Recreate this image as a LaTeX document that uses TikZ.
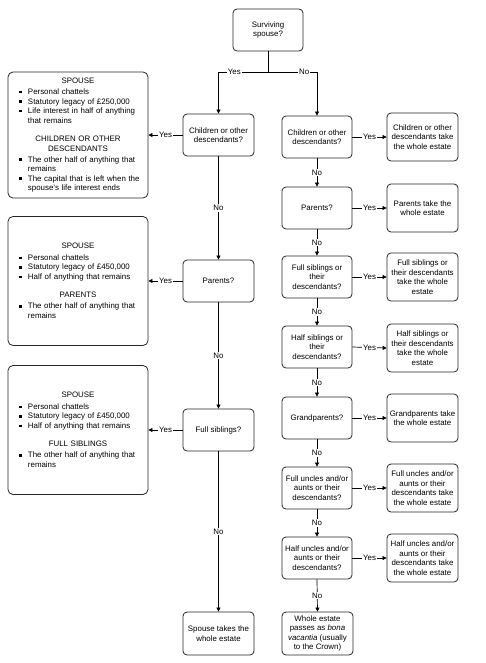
\documentclass[tikz,border=0pt]{standalone}
\usepackage{fontspec}
\setmainfont{Liberation Sans}
\usetikzlibrary{arrows.meta}
\newcommand\fs{\fontsize{7.9}{9.5}\selectfont}
\newcommand\hd[1]{{\centering #1\par}}
\newcommand\itm[1]{{\raggedright\hangindent=12pt\hangafter=1\noindent\makebox[12pt][l]{\hspace{3pt}\raisebox{1.3pt}{\rule{2.6pt}{2.6pt}}}#1\par}}
\tikzset{
  box/.style={draw=black!85, line width=0.8pt, rounded corners=4pt, align=center, font=\fs, inner sep=1pt},
  q/.style={box, minimum width=70pt, minimum height=42pt},
  res/.style={box, minimum width=71pt, minimum height=48pt},
  big/.style={draw=black!85, line width=0.8pt, rounded corners=5pt, font=\fs, text width=124pt, inner xsep=8pt, inner ysep=2pt, minimum height=128pt},
  arr/.style={-{Triangle[length=4pt,width=4pt]}, line width=0.7pt},
  ln/.style={line width=0.7pt},
  lab/.style={fill=white, inner sep=1pt, font=\fs}
}
\begin{document}
\begin{tikzpicture}[x=1pt,y=-1pt]
\useasboundingbox (0,0) rectangle (486,663);
% top
\node[q] (sp) at (268,30) {Surviving\\spouse?};
\coordinate (split) at (268,72);
% left column
\node[q, minimum width=71pt] (lc1) at (218.5,135) {Children or other\\descendants?};
\node[q, minimum width=71pt] (lc2) at (218.5,281) {Parents?};
\node[q, minimum width=71pt] (lc3) at (218.5,430) {Full siblings?};
\node[q, minimum width=71pt, minimum height=43pt] (lc4) at (218.5,633.5) {Spouse takes the\\whole estate};
% big boxes
\node[big, minimum height=126pt] (b1) at (78,135) {%
\hd{SPOUSE}\vspace{2pt}
\itm{Personal chattels}
\itm{Statutory legacy of £250,000}
\itm{Life interest in half of anything\newline that remains}
\vspace{9pt}
\hd{CHILDREN OR OTHER\\DESCENDANTS}\vspace{1.5pt}
\itm{The other half of anything that\newline remains}
\itm{The capital that is left when the\newline spouse's life interest ends}};
\node[big, minimum height=129pt] (b2) at (78,281) {%
\hd{SPOUSE}\vspace{2pt}
\itm{Personal chattels}
\itm{Statutory legacy of £450,000}
\itm{Half of anything that remains}
\vspace{9pt}
\hd{PARENTS}\vspace{1.5pt}
\itm{The other half of anything that\newline remains}};
\node[big, minimum height=129pt] (b3) at (78,430) {%
\hd{SPOUSE}\vspace{2pt}
\itm{Personal chattels}
\itm{Statutory legacy of £450,000}
\itm{Half of anything that remains}
\vspace{9pt}
\hd{FULL SIBLINGS}\vspace{1.5pt}
\itm{The other half of anything that\newline remains}};
% right column
\node[q] (rc1) at (317,137) {Children or other\\descendants?};
\node[q] (rc2) at (317,208) {Parents?};
\node[q] (rc3) at (317,277) {Full siblings or\\their\\descendants?};
\node[q] (rc4) at (317,347) {Half siblings or\\their\\descendants?};
\node[q] (rc5) at (317,418) {Grandparents?};
\node[q] (rc6) at (317,488) {Full uncles and/or\\aunts or their\\descendants?};
\node[q] (rc7) at (317,558) {Half uncles and/or\\aunts or their\\descendants?};
\node[q, minimum width=71pt, minimum height=43pt] (rc8) at (317.5,633.5) {Whole estate\\passes as \textit{bona}\\\textit{vacantia} (usually\\to the Crown)};
% results
\node[res] (rr1) at (422.5,137) {Children or other\\descendants take\\the whole estate};
\node[res] (rr2) at (422.5,208) {Parents take the\\whole estate};
\node[res] (rr3) at (422.5,277) {Full siblings or\\their descendants\\take the whole\\estate};
\node[res] (rr4) at (422.5,348) {Half siblings or\\their descendants\\take the whole\\estate};
\node[res] (rr5) at (422.5,418) {Grandparents take\\the whole estate};
\node[res] (rr6) at (422.5,488) {Full uncles and/or\\aunts or their\\descendants take\\the whole estate};
\node[res] (rr7) at (422.5,558) {Half uncles and/or\\aunts or their\\descendants take\\the whole estate};
% connectors
\draw[ln] (sp.south) -- (split);
\draw[arr] (split) -| node[lab, pos=0.34] {Yes} (lc1.north);
\draw[arr] (split) -| node[lab, pos=0.37] {No} (rc1.north);
\draw[arr] (lc1.south) -- node[lab] {No} (lc2.north);
\draw[arr] (lc2.south) -- node[lab] {No} (lc3.north);
\draw[arr] (lc3.south) -- node[lab] {No} (lc4.north);
\draw[arr] (lc1.west) -- node[lab] {Yes} (b1.east);
\draw[arr] (lc2.west) -- node[lab] {Yes} (b2.east);
\draw[arr] (lc3.west) -- node[lab] {Yes} (b3.east);
\foreach \i/\j in {1/2,2/3,3/4,4/5,5/6,6/7,7/8}{
  \draw[arr] (rc\i.south) -- node[lab] {No} (rc\j.north);
}
\foreach \i in {1,...,7}{
  \draw[arr] (rc\i.east) -- node[lab] {Yes} (rr\i.west);
}
\end{tikzpicture}
\end{document}
